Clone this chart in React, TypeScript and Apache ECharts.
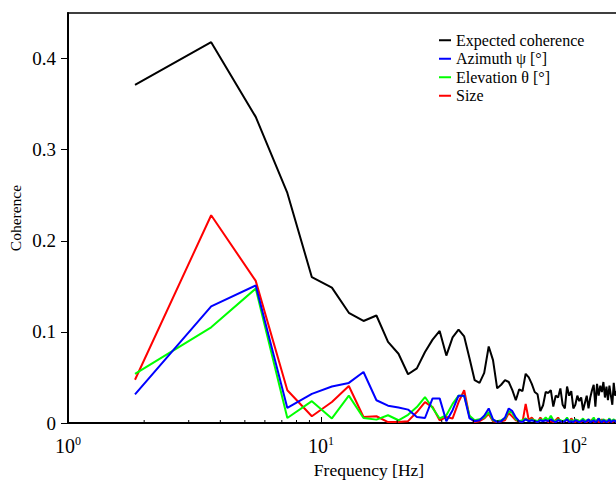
import React, { useEffect, useRef } from "react";
import * as echarts from "echarts";

const frequencyHz = [
  1.84, 3.68, 5.52, 7.36, 9.2, 11.04, 12.88, 14.72, 16.56, 18.4,
  20.24, 22.08, 23.92, 25.76, 27.6, 29.44, 31.28, 33.12, 34.96, 36.8,
  38.64, 40.48, 42.32, 44.16, 46, 47.84, 49.68, 51.52, 53.36, 55.2,
  57.04, 58.88, 60.72, 62.56, 64.4, 66.24, 68.08, 69.92, 71.76, 73.6,
  75.44, 77.28, 79.12, 80.96, 82.8, 84.64, 86.48, 88.32, 90.16, 92,
  93.84, 95.68, 97.52, 99.36, 101.2, 103.04, 104.88, 106.72, 108.56, 110.4,
  112.24, 114.08, 115.92, 117.76, 119.6, 121.44, 123.28, 125.12, 126.96, 128.8,
  130.64, 132.48, 134.32, 136.16, 138, 139.84, 141.68, 143.52, 145.36, 147.2,
];

const expectedCoherence = [
  0.371, 0.418, 0.336, 0.2525, 0.16, 0.1486, 0.121, 0.112, 0.118, 0.089,
  0.076, 0.0535, 0.06, 0.078, 0.0915, 0.101, 0.074, 0.094, 0.1025, 0.095,
  0.0707, 0.047, 0.044, 0.055, 0.084, 0.069, 0.038, 0.042, 0.047, 0.045,
  0.036, 0.025, 0.037, 0.035, 0.054, 0.05, 0.043, 0.034, 0.0315, 0.013,
  0.0195, 0.034, 0.033, 0.036, 0.018, 0.03, 0.028, 0.038, 0.02, 0.016,
  0.04, 0.03, 0.035, 0.016, 0.02, 0.03, 0.024, 0.028, 0.014, 0.022,
  0.03, 0.016, 0.028, 0.036, 0.042, 0.018, 0.043, 0.03, 0.041, 0.034,
  0.045, 0.028, 0.04, 0.025, 0.041, 0.03, 0.02, 0.044, 0.03, 0.035,
];

const azimuth = [
  0.0315, 0.128, 0.151, 0.0165, 0.032, 0.04, 0.044, 0.056, 0.025, 0.019,
  0.017, 0.0147, 0.0066, 0.0055, 0.027, 0.027, 0.002, 0.014, 0.03, 0.03,
  0.005, 0.002, 0.003, 0.008, 0.016, 0.004, 0.001, 0.002, 0.006, 0.016,
  0.013, 0.006, 0.002, 0.001, 0.004, 0.002, 0.003, 0.002, 0.001, 0.003,
  0.002, 0.003, 0.002, 0.004, 0.002, 0.001, 0.003, 0.002, 0.001, 0.002,
  0.004, 0.001, 0.002, 0.001, 0.003, 0.002, 0.001, 0.002, 0.003, 0.001,
  0.002, 0.004, 0.001, 0.002, 0.003, 0.001, 0.002, 0.005, 0.002, 0.001,
  0.003, 0.002, 0.001, 0.002, 0.004, 0.001, 0.002, 0.003, 0.002, 0.001,
];

const elevation = [
  0.054, 0.105, 0.1475, 0.0055, 0.024, 0.005, 0.03, 0.0055, 0.0037, 0.0085,
  0.003, 0.009, 0.0175, 0.0285, 0.0165, 0.005, 0.0085, 0.021, 0.03, 0.03,
  0.008, 0.003, 0.004, 0.006, 0.012, 0.003, 0.002, 0.003, 0.005, 0.013,
  0.011, 0.004, 0.002, 0.003, 0.005, 0.002, 0.004, 0.003, 0.002, 0.004,
  0.003, 0.006, 0.003, 0.008, 0.003, 0.002, 0.004, 0.003, 0.002, 0.003,
  0.006, 0.002, 0.003, 0.002, 0.004, 0.003, 0.002, 0.003, 0.005, 0.002,
  0.003, 0.004, 0.002, 0.003, 0.006, 0.002, 0.003, 0.005, 0.003, 0.002,
  0.004, 0.003, 0.002, 0.003, 0.005, 0.002, 0.003, 0.004, 0.002, 0.003,
];

const size = [
  0.0475, 0.228, 0.156, 0.036, 0.0074, 0.023, 0.0406, 0.0066, 0.0074, 0.001,
  0.001, 0.002, 0.012, 0.023, 0.0175, 0.003, 0.0066, 0.005, 0.023, 0.036,
  0.0066, 0.001, 0.002, 0.005, 0.01, 0.002, 0.001, 0.002, 0.003, 0.011,
  0.007, 0.003, 0.002, 0.001, 0.021, 0.003, 0.006, 0.002, 0.001, 0.006,
  0.002, 0.004, 0.001, 0.002, 0.001, 0.003, 0.006, 0.002, 0.001, 0.002,
  0.004, 0.001, 0.005, 0.002, 0.001, 0.003, 0.002, 0.001, 0.004, 0.002,
  0.001, 0.003, 0.002, 0.004, 0.001, 0.002, 0.003, 0.001, 0.002, 0.004,
  0.001, 0.002, 0.003, 0.001, 0.002, 0.003, 0.001, 0.002, 0.003, 0.001,
];

const seriesNames = ["Expected coherence", "Azimuth ψ [°]", "Elevation θ [°]", "Size"];
const seriesColors = ["#000000", "#0000ff", "#00ff00", "#ff0000"];
const yTickValues = [0, 0.1, 0.2, 0.3, 0.4];
const xMajorTicks = [1, 10, 100];
const xMinorTicks = [2, 3, 4, 5, 6, 7, 8, 9, 20, 30, 40, 50, 60, 70, 80, 90];

const FONT = "Liberation Serif";

export default function App() {
  const ref = useRef<HTMLDivElement>(null);

  useEffect(() => {
    if (!ref.current) return;
    const chart = echarts.init(ref.current, null, { renderer: "svg" });
    const allValues = [expectedCoherence, azimuth, elevation, size];

    const lineSeries = allValues.map((vals, i) => ({
      name: seriesNames[i],
      type: "line",
      data: frequencyHz.map((f, j) => [f, vals[j]]),
      showSymbol: false,
      symbol: "none",
      lineStyle: { color: seriesColors[i], width: 2 },
      itemStyle: { color: seriesColors[i] },
      z: 10 - i,
      clip: true,
    }));

    chart.setOption({
      animation: false,
      backgroundColor: "#ffffff",
      textStyle: { fontFamily: FONT },
      grid: {
        left: 68,
        right: -2,
        top: 13,
        bottom: 57,
        show: true,
        borderColor: "#000",
        borderWidth: 1.5,
        containLabel: false,
        outerBoundsMode: "none",
      },
      legend: {
        orient: "vertical",
        left: 434,
        top: 26,
        data: seriesNames,
        icon: "rect",
        itemWidth: 12,
        itemHeight: 2,
        itemGap: 0,
        textStyle: { fontFamily: FONT, fontSize: 16, color: "#000", lineHeight: 18.5 },
      },
      xAxis: {
        type: "log",
        logBase: 10,
        min: 1,
        max: 149.2,
        name: "Frequency [Hz]",
        nameLocation: "middle",
        nameGap: 38,
        nameMoveOverlap: false,
        nameTextStyle: { fontFamily: FONT, fontSize: 17.5, color: "#000", padding: [0, 0, 0, 52] },
        axisLine: { lineStyle: { color: "#000", width: 2 } },
        axisTick: { inside: true, length: 6, customValues: xMajorTicks, lineStyle: { color: "#000", width: 1 } },
        splitLine: { show: false },
        axisLabel: {
          margin: 12,
          customValues: xMajorTicks,
          formatter: (v: number) => `{b|10}{s|${Math.round(Math.log10(v))}}`,
          rich: {
            b: { fontFamily: FONT, fontSize: 20, color: "#000", lineHeight: 22 },
            s: { fontFamily: FONT, fontSize: 12, color: "#000", verticalAlign: "top", lineHeight: 14 },
          },
        },
      },
      yAxis: {
        type: "value",
        min: 0,
        max: 0.45,
        name: "Coherence",
        nameLocation: "middle",
        nameGap: 45,
        nameMoveOverlap: false,
        nameTextStyle: { fontFamily: FONT, fontSize: 15.5, color: "#000" },
        axisLine: { lineStyle: { color: "#000", width: 2 } },
        axisTick: { inside: false, length: 7, customValues: yTickValues, lineStyle: { color: "#000", width: 1 } },
        splitLine: { show: false },
        axisLabel: {
          margin: 12,
          customValues: yTickValues,
          fontFamily: FONT,
          fontSize: 19,
          color: "#000",
          formatter: (v: number) => (v === 0 ? "0" : v.toFixed(1)),
        },
      },
      series: [
        ...lineSeries,
        {
          type: "custom",
          name: "minorTicks",
          silent: true,
          data: xMinorTicks.map((v) => [v, 0]),
          renderItem: (_params: any, api: any) => {
            const p = api.coord([api.value(0), 0]);
            return {
              type: "line",
              shape: { x1: p[0], y1: p[1], x2: p[0], y2: p[1] - 3 },
              style: { stroke: "#000", lineWidth: 1 },
            };
          },
          z: 20,
        },
      ],
    });

    return () => chart.dispose();
  }, []);

  return (
    <div
      ref={ref}
      style={{ position: "fixed", left: 0, top: 0, width: 616, height: 480, background: "#fff" }}
    />
  );
}
